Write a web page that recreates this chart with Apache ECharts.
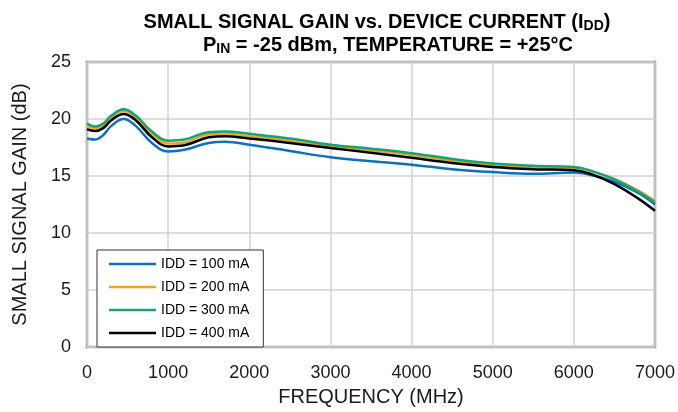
<!DOCTYPE html>
<html><head><meta charset="utf-8">
<script src="https://cdn.jsdelivr.net/npm/echarts@6/dist/echarts.min.js"></script>
<style>html,body{margin:0;padding:0;background:#fff}#c{width:678px;height:412px}</style>
</head><body><div id="c"></div>
<script>
const freqs = [0,100,200,300,450,600,800,1000,1200,1500,1700,2000,2500,3000,3500,4000,4500,5000,5500,6000,6200,6500,6800,7000];
const idd100 = [18.3,18.2,18.6,19.4,20.0,19.4,17.9,17.15,17.3,17.9,18.0,17.75,17.2,16.65,16.3,16.0,15.6,15.35,15.2,15.3,15.1,14.5,13.5,12.5];
const idd200 = [19.4,19.2,19.45,20.15,20.7,20.15,18.7,17.85,17.95,18.65,18.7,18.5,18.1,17.6,17.25,16.85,16.35,15.95,15.8,15.7,15.45,14.75,13.7,12.8];
const idd300 = [19.6,19.35,19.6,20.3,20.85,20.3,18.9,18.1,18.2,18.85,18.9,18.7,18.3,17.75,17.4,17.0,16.5,16.1,15.9,15.8,15.5,14.7,13.6,12.7];
const idd400 = [19.1,18.95,19.2,19.9,20.45,19.9,18.4,17.6,17.7,18.4,18.5,18.3,17.9,17.45,17.05,16.6,16.15,15.8,15.6,15.5,15.2,14.3,13.0,11.95];
const seriesNames = ['IDD = 100 mA','IDD = 200 mA','IDD = 300 mA','IDD = 400 mA'];
const seriesData = [idd100, idd200, idd300, idd400];
const colors = ['#0b72bb','#eda51a','#13a47a','#000000'];
const titleLine1 = ['SMALL SIGNAL GAIN vs. DEVICE CURRENT (I', 'DD', ')'];
const titleLine2 = ['P', 'IN', ' = -25 dBm, TEMPERATURE = +25°C'];

const chart = echarts.init(document.getElementById('c'));
const font = 'Liberation Sans, Arial, sans-serif';
const rich = {
  t:{fontFamily:font,fontWeight:'bold',fontSize:20,color:'#000',lineHeight:24},
  s:{fontFamily:font,fontWeight:'bold',fontSize:14,color:'#000',lineHeight:24,padding:[9,0,0,0]}
};
chart.setOption({
  animation:false,
  textStyle:{fontFamily:font},
  title:[
    {left:372, top:5, textAlign:'center',
     text:'{t|'+titleLine1[0]+'}{s|'+titleLine1[1]+'}{t|'+titleLine1[2]+'}',
     textStyle:{rich:rich}},
    {left:383, top:28, textAlign:'center',
     text:'{t|'+titleLine2[0]+'}{s|'+titleLine2[1]+'}{t|'+titleLine2[2]+'}',
     textStyle:{rich:rich}}
  ],
  legend:{
    orient:'vertical', left:97, top:250,
    backgroundColor:'#fff', borderColor:'#333', borderWidth:1,
    padding:[6,14,6,12],
    icon:'rect', itemWidth:47, itemHeight:2.5, itemGap:7,
    textStyle:{fontFamily:font,fontSize:14,color:'#000',lineHeight:16},
    data:seriesNames
  },
  grid:{left:87,right:20,top:62,bottom:60,show:true,borderColor:'#8a8a8a',borderWidth:2.5,backgroundColor:'transparent'},
  xAxis:{
    type:'value', min:0, max:7000, interval:1000,
    name:'FREQUENCY (MHz)', nameLocation:'middle', nameGap:38,
    nameTextStyle:{fontFamily:font,fontSize:20,color:'#1a1a1a'},
    axisLine:{show:false}, axisTick:{show:false},
    axisLabel:{fontFamily:font,fontSize:18,color:'#1a1a1a',margin:17,formatter:v=>String(v)},
    splitLine:{show:true,lineStyle:{color:'#d2d2d2',width:1.5}}
  },
  yAxis:{
    type:'value', min:0, max:25, interval:5,
    name:'SMALL SIGNAL GAIN (dB)', nameLocation:'middle', nameGap:57,
    nameTextStyle:{fontFamily:font,fontSize:20,color:'#1a1a1a'},
    axisLine:{show:false}, axisTick:{show:false},
    axisLabel:{fontFamily:font,fontSize:18,color:'#1a1a1a',margin:16},
    splitLine:{show:true,lineStyle:{color:'#d2d2d2',width:1.5}}
  },
  series: seriesNames.map((n,i)=>({
    name:n, type:'line', smooth:0.4, symbol:'none', showSymbol:false,
    color:colors[i],
    lineStyle:{color:colors[i],width:2.5},
    data: freqs.map((f,j)=>[f, seriesData[i][j]])
  }))
});
</script></body></html>
